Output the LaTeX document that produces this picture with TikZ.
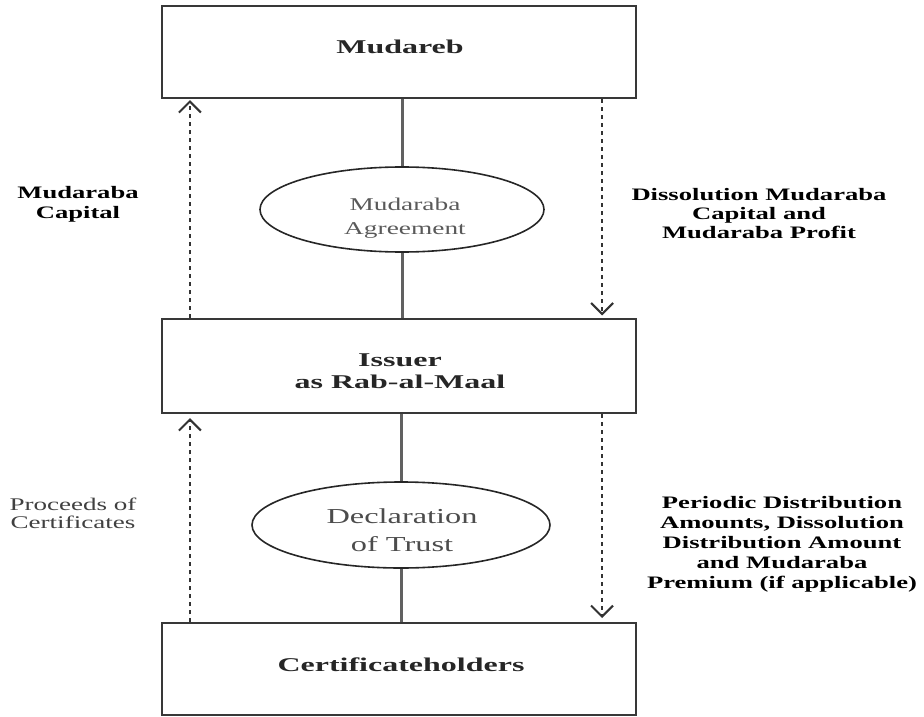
\documentclass[tikz,border=0pt]{standalone}
\usepackage{fontspec}
\setmainfont{Liberation Serif}[FakeStretch=1.52]
\newfontfamily\titlefamily{Liberation Serif}[FakeStretch=1.64]
\usetikzlibrary{arrows.meta,shapes.geometric}

\begin{document}
\begin{tikzpicture}[x=1pt,y=-1pt,
  box/.style={draw=black!78, line width=2.2pt, minimum width=474pt, inner sep=0pt},
  oval/.style={draw=black!85, line width=1.6pt, ellipse, inner sep=0pt},
  title/.style={font=\titlefamily\bfseries\fontsize{19.5}{22}\selectfont,
    text=black!85, align=center, inner sep=0pt},
  side/.style={font=\bfseries\fontsize{17.5}{19.8}\selectfont,
    text=black, align=center, inner sep=0pt},
  plain/.style={font=\fontsize{17.8}{18}\selectfont,
    text=black!75, align=center, inner sep=0pt},
  link/.style={draw=black!62, line width=3pt},
  flow/.style={draw=black!80, line width=2.1pt, dash pattern=on 4pt off 4pt,
    -{Straight Barb[length=11pt,width=22pt]}}
]
\useasboundingbox (0,0) rectangle (924,717);

% parties
\node[box, minimum height=92pt] (mud)  at (399,52)    {};
\node[box, minimum height=94pt] (iss)  at (399,366)   {};
\node[box, minimum height=92pt] (cert) at (399,669.2) {};
\node[title] (mudT)  at (400,46.4)  {Mudareb};
\node[title] (issT)  at (400,371.5) {Issuer\\as Rab-al-Maal};
\node[title] (certT) at (401,664.4) {Certificateholders};

% contracts
\node[oval, minimum width=284pt, minimum height=85pt] (agr) at (402,209.5) {};
\node[oval, minimum width=298pt, minimum height=86pt] (dec) at (401,525) {};
\node[font=\fontsize{18}{24}\selectfont, text=black!65, align=center, inner sep=0pt]
  (agrT) at (405,217.8) {Mudaraba\\Agreement};
\node[font=\fontsize{21.3}{28}\selectfont, text=black!70, align=center, inner sep=0pt]
  (decT) at (402,529.8) {Declaration\\of Trust};

% solid links through the contracts
\draw[link] (mud.south -| agr.north) -- (agr.north);
\draw[link] (agr.south) -- (iss.north -| agr.south);
\draw[link] (iss.south -| dec.north) -- (dec.north);
\draw[link] (dec.south) -- (cert.north -| dec.south);

% cash flows
\draw[flow, shorten >=1pt] ([xshift=29pt]iss.north west) -- ([xshift=29pt]mud.south west);
\draw[flow, shorten >=2.5pt] ([xshift=-35pt]mud.south east) -- ([xshift=-35pt]iss.north east);
\draw[flow, shorten >=4pt] ([xshift=29pt]cert.north west) -- ([xshift=29pt]iss.south west);
\draw[flow, shorten >=4pt] ([xshift=-35pt]iss.south east) -- ([xshift=-35pt]cert.north east);

% flow labels
\node[side] (capL) at (78,204) {Mudaraba\\Capital};
\node[side, font=\bfseries\fontsize{17.5}{19}\selectfont] (dissR) at (759,214)
  {Dissolution Mudaraba\\Capital and\\Mudaraba Profit};
\node[plain] (procL) at (73,513) {Proceeds of\\Certificates};
\node[side, font=\bfseries\fontsize{17.5}{20}\selectfont] (perR) at (782,544)
  {Periodic Distribution\\Amounts, Dissolution\\Distribution Amount\\and Mudaraba\\Premium (if applicable)};
\end{tikzpicture}
\end{document}
